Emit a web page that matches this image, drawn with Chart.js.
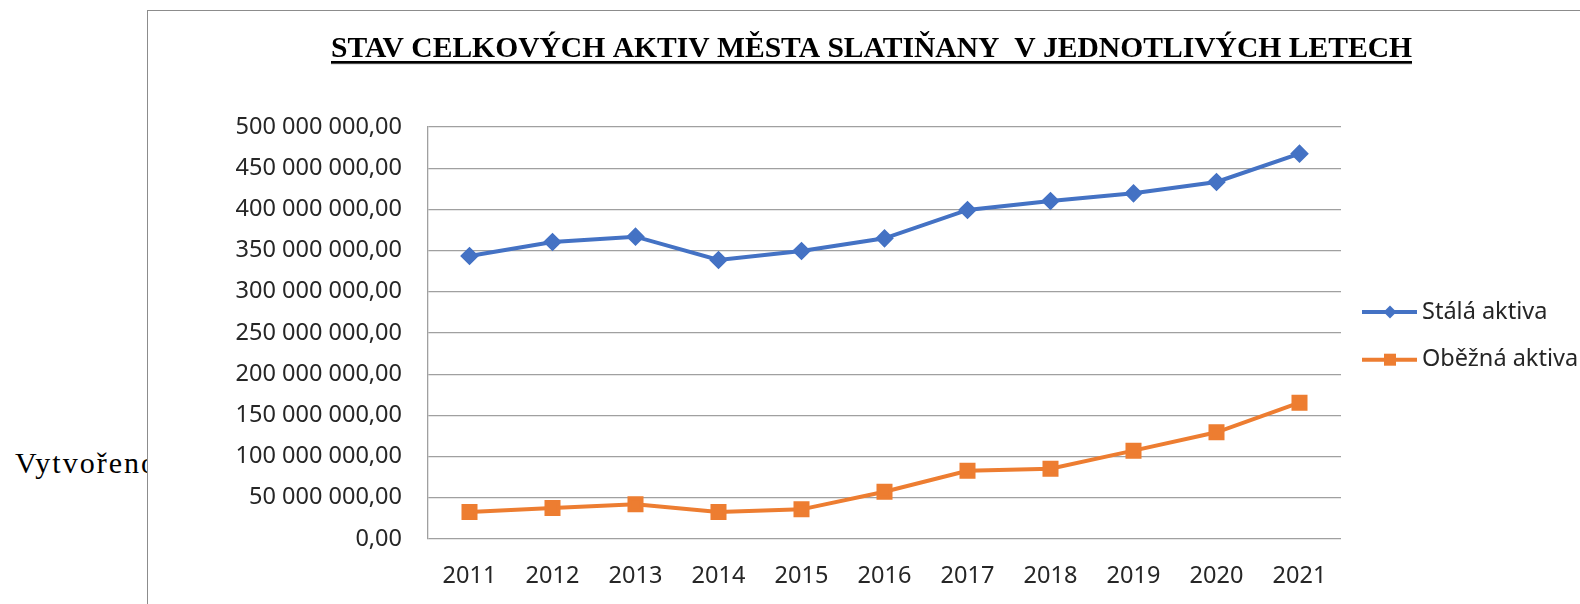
<!DOCTYPE html>
<html>
<head>
<meta charset="utf-8">
<script src="https://cdn.jsdelivr.net/npm/chart.js@4"></script>
<style>
  html, body { margin: 0; padding: 0; background: #fff; }
  body { width: 1580px; height: 604px; position: relative; overflow: hidden; }
  #side {
    position: absolute; left: 15px; top: 446px;
    font: 30px "Liberation Serif", "Times New Roman", serif;
    letter-spacing: 2px; color: #000; white-space: nowrap;
  }
  #frame {
    position: absolute; left: 147px; top: 10px; width: 1600px; height: 700px;
    border: 1.5px solid #8c8c8c; background: #fff;
  }
  #chart { position: absolute; left: 0; top: 0; }
</style>
</head>
<body>
<div id="side">Vytvořeno</div>
<div id="frame"></div>
<canvas id="chart" width="1580" height="604"></canvas>
<script>
  const years = ["2011", "2012", "2013", "2014", "2015", "2016", "2017", "2018", "2019", "2020", "2021"];
  const stalaAktiva = [343400000, 360400000, 366900000, 338600000, 349500000, 364900000, 399300000, 410200000, 419500000, 433300000, 467600000];
  const obeznaAktiva = [32800000, 37600000, 42100000, 32800000, 36000000, 57400000, 82900000, 85300000, 107200000, 129500000, 165400000];
  const seriesNames = ["Stálá aktiva", "Oběžná aktiva"];
  const chartTitle = "STAV CELKOVÝCH AKTIV MĚSTA SLATIŇANY  V JEDNOTLIVÝCH LETECH";

  const textFont = '"Noto Sans", "Open Sans", sans-serif';

  // 500000000 -> "500 000 000,00"
  function formatCz(v) {
    const s = Math.round(v).toString().replace(/\B(?=(\d{3})+(?!\d))/g, " ");
    return s + ",00";
  }

  const titlePlugin = {
    id: "wordTitle",
    afterDraw(chart) {
      const ctx = chart.ctx;
      const left = 331, right = 1412, baseline = 57;
      ctx.save();
      ctx.font = 'bold 30px "Liberation Serif", "Times New Roman", serif';
      ctx.fillStyle = "#000";
      ctx.textBaseline = "alphabetic";
      ctx.textAlign = "left";
      const w = ctx.measureText(chartTitle).width;
      ctx.translate(left, baseline);
      ctx.scale((right - left) / w, 1);
      ctx.fillText(chartTitle, 0, 0);
      ctx.restore();
      ctx.save();
      ctx.fillStyle = "#000";
      ctx.fillRect(left, 61, right - left, 2);
      ctx.fillRect(left, 63.3, right - left, 0.8);
      ctx.restore();
    }
  };

  const legendPlugin = {
    id: "sideLegend",
    afterDraw(chart) {
      const ctx = chart.ctx;
      chart.data.datasets.forEach((ds, i) => {
        const y = 312 + i * 47.7;
        ctx.save();
        ctx.strokeStyle = ds.borderColor;
        ctx.lineWidth = 4;
        ctx.beginPath();
        ctx.moveTo(1362, y);
        ctx.lineTo(1417, y);
        ctx.stroke();
        ctx.fillStyle = ds.pointBackgroundColor;
        ctx.beginPath();
        if (ds.pointStyle === "rectRot") {
          const r = 6.5;
          ctx.moveTo(1390, y - r);
          ctx.lineTo(1390 + r, y);
          ctx.lineTo(1390, y + r);
          ctx.lineTo(1390 - r, y);
          ctx.closePath();
        } else {
          ctx.rect(1390 - 6, y - 6, 12, 12);
        }
        ctx.fill();
        ctx.fillStyle = "#262626";
        ctx.font = "23.5px " + textFont;
        ctx.textBaseline = "middle";
        ctx.textAlign = "left";
        ctx.fillText(ds.label, 1422, y);
        ctx.restore();
      });
    }
  };

  new Chart(document.getElementById("chart"), {
    type: "line",
    data: {
      labels: years,
      datasets: [
        {
          label: seriesNames[0],
          data: stalaAktiva,
          borderColor: "#4472C4",
          backgroundColor: "#4472C4",
          pointBackgroundColor: "#4472C4",
          pointBorderColor: "#4472C4",
          pointStyle: "rectRot",
          pointRadius: 6.5,
          borderWidth: 4
        },
        {
          label: seriesNames[1],
          data: obeznaAktiva,
          borderColor: "#ED7D31",
          backgroundColor: "#ED7D31",
          pointBackgroundColor: "#ED7D31",
          pointBorderColor: "#ED7D31",
          pointStyle: "rect",
          pointRadius: 8.5,
          borderWidth: 4
        }
      ]
    },
    options: {
      responsive: false,
      animation: false,
      layout: { padding: { left: 0, right: 239, top: 127, bottom: 0 } },
      plugins: {
        legend: { display: false },
        title: { display: false },
        tooltip: { enabled: false }
      },
      scales: {
        x: {
          offset: true,
          grid: { display: false, drawTicks: false },
          border: { display: false },
          ticks: {
            color: "#262626",
            padding: 23,
            maxRotation: 0,
            font: { family: textFont, size: 23.5 }
          },
          afterFit(scale) { scale.height = 65; }
        },
        y: {
          min: 0,
          max: 500000000,
          grid: { color: "#a0a0a0", lineWidth: 1.3, drawTicks: false },
          border: { display: true, color: "#a0a0a0", width: 1.3 },
          ticks: {
            stepSize: 50000000,
            color: "#262626",
            padding: 26,
            font: { family: textFont, size: 23.5 },
            callback: (v) => formatCz(v)
          },
          afterFit(scale) { scale.width = 428; }
        }
      }
    },
    plugins: [titlePlugin, legendPlugin]
  });
</script>
</body>
</html>
